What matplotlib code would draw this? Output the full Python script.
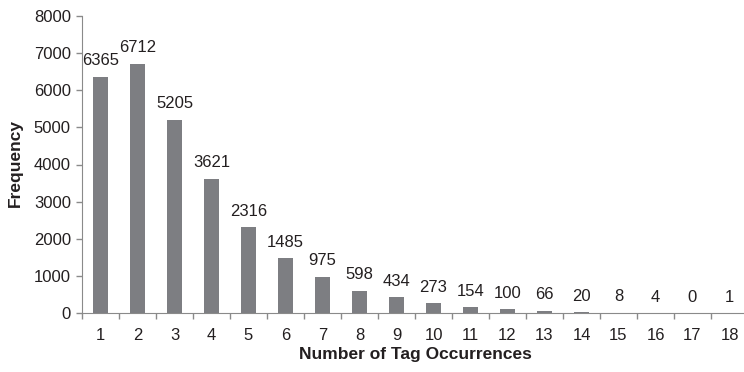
import numpy as np
import matplotlib
matplotlib.use('Agg')
import matplotlib.pyplot as plt

# tag occurrence counts and how often each one shows up
occurrences = list(range(1, 19))
frequency = [6365, 6712, 5205, 3621, 2316, 1485, 975, 598, 434, 273,
             154, 100, 66, 20, 8, 4, 0, 1]

plt.rcParams['font.family'] = ['Liberation Sans', 'DejaVu Sans']
text_color = '#231f20'
axis_color = '#8a8a8a'
bar_color = '#7d7e82'

fig = plt.figure(figsize=(7.44, 3.72), dpi=100)
W, H = 744, 372
# axis frame in pixels: left 82, right 748 (runs off the edge), top 16, bottom 313
ax = fig.add_axes([82 / W, (H - 313) / H, (748 - 82) / W, (313 - 16) / H])

x = np.array(occurrences)
ax.bar(x, frequency, width=0.4, color=bar_color, zorder=2)

for xi, v in zip(x, frequency):
    ax.annotate(str(v), (xi, v), xytext=(0, 6), textcoords='offset points',
                ha='center', va='bottom', fontsize=12, color=text_color)

ax.set_xlim(0.5, 18.5)
ax.set_ylim(0, 8000)
ax.set_yticks(np.arange(0, 8001, 1000))

# tick marks between categories, labels centred under the bars
ax.set_xticks(np.arange(0.5, 18.6, 1))
ax.set_xticklabels([])
ax.set_xticks(x, minor=True)
ax.set_xticklabels([str(o) for o in occurrences], minor=True)
ax.tick_params(axis='x', which='major', direction='out', length=4, width=1, color=axis_color)
ax.tick_params(axis='x', which='minor', length=0, pad=11, labelsize=12, labelcolor=text_color)
ax.tick_params(axis='y', direction='out', length=4, width=1, color=axis_color,
               pad=4, labelsize=12, labelcolor=text_color)

ax.spines['top'].set_visible(False)
ax.spines['right'].set_visible(False)
ax.spines['left'].set_color(axis_color)
ax.spines['bottom'].set_color(axis_color)

fig.text(415 / W, 1 - 355 / H, 'Number of Tag Occurrences', ha='center', va='center',
         fontsize=12.5, fontweight='bold', color=text_color)
fig.text(15 / W, 1 - 163 / H, 'Frequency', ha='center', va='center', rotation=90,
         fontsize=12.5, fontweight='bold', color=text_color)

fig.savefig('out.png', dpi=100)
